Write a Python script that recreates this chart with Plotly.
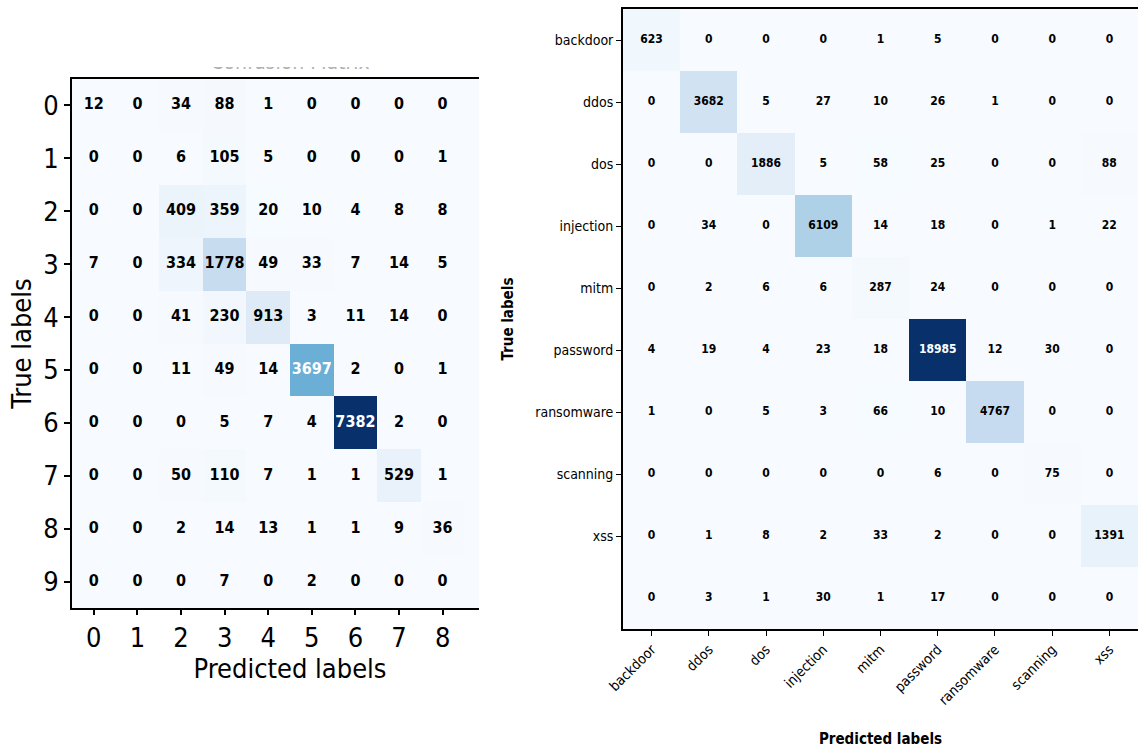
import plotly.graph_objects as go

# ---- data -------------------------------------------------------------
digit_labels = ["0", "1", "2", "3", "4", "5", "6", "7", "8", "9"]

digit_matrix = [
    [12, 0, 34, 88, 1, 0, 0, 0, 0, 0],
    [0, 0, 6, 105, 5, 0, 0, 0, 1, 0],
    [0, 0, 409, 359, 20, 10, 4, 8, 8, 0],
    [7, 0, 334, 1778, 49, 33, 7, 14, 5, 0],
    [0, 0, 41, 230, 913, 3, 11, 14, 0, 0],
    [0, 0, 11, 49, 14, 3697, 2, 0, 1, 0],
    [0, 0, 0, 5, 7, 4, 7382, 2, 0, 0],
    [0, 0, 50, 110, 7, 1, 1, 529, 1, 0],
    [0, 0, 2, 14, 13, 1, 1, 9, 36, 0],
    [0, 0, 0, 7, 0, 2, 0, 0, 0, 0],
]

attack_labels = ["backdoor", "ddos", "dos", "injection", "mitm",
                 "password", "ransomware", "scanning", "xss"]

attack_matrix = [
    [623, 0, 0, 0, 1, 5, 0, 0, 0],
    [0, 3682, 5, 27, 10, 26, 1, 0, 0],
    [0, 0, 1886, 5, 58, 25, 0, 0, 88],
    [0, 34, 0, 6109, 14, 18, 0, 1, 22],
    [0, 2, 6, 6, 287, 24, 0, 0, 0],
    [4, 19, 4, 23, 18, 18985, 12, 30, 0],
    [1, 0, 5, 3, 66, 10, 4767, 0, 0],
    [0, 0, 0, 0, 0, 6, 0, 75, 0],
    [0, 1, 8, 2, 33, 2, 0, 0, 1391],
    [0, 3, 1, 30, 1, 17, 0, 0, 0],
]

# matplotlib "Blues"
BLUES = [
    [0.0, "#f7fbff"], [0.125, "#deebf7"], [0.25, "#c6dbef"],
    [0.375, "#9ecae1"], [0.5, "#6baed6"], [0.625, "#4292c6"],
    [0.75, "#2171b5"], [0.875, "#08519c"], [1.0, "#08306b"],
]

W, H = 1138, 751
FONT = "DejaVu Sans Condensed, DejaVu Sans, sans-serif"


def px_x(p):
    return p / W


def px_y(p):
    return 1 - p / H


def cell_text(matrix):
    vmax = max(max(r) for r in matrix)
    xs, ys, txt, col = [], [], [], []
    for i, row in enumerate(matrix):
        for j, v in enumerate(row):
            xs.append(j)
            ys.append(i)
            txt.append(str(v))
            col.append("white" if v / vmax > 0.45 else "black")
    return xs, ys, txt, col


fig = go.Figure()

# ---- left panel: digit classes ---------------------------------------
fig.add_trace(go.Heatmap(
    z=digit_matrix, x=list(range(len(digit_labels))), y=list(range(len(digit_labels))),
    colorscale=BLUES, zmin=0, showscale=False, hoverinfo="skip",
    xaxis="x", yaxis="y",
))
xs, ys, txt, col = cell_text(digit_matrix)
fig.add_trace(go.Scatter(
    x=xs, y=ys, text=txt, mode="text", cliponaxis=True, hoverinfo="skip",
    textfont=dict(family=FONT, size=16, color=col, weight="bold"),
    xaxis="x", yaxis="y", showlegend=False,
))

# ---- right panel: attack types ---------------------------------------
fig.add_trace(go.Heatmap(
    z=attack_matrix, x=list(range(len(attack_labels))), y=list(range(len(attack_matrix))),
    colorscale=BLUES, zmin=0, showscale=False, hoverinfo="skip",
    xaxis="x2", yaxis="y2",
))
xs, ys, txt, col = cell_text(attack_matrix)
fig.add_trace(go.Scatter(
    x=xs, y=ys, text=txt, mode="text", cliponaxis=True, hoverinfo="skip",
    textfont=dict(family=FONT, size=12, color=col, weight="bold"),
    xaxis="x2", yaxis="y2", showlegend=False,
))

# ---- clipped heading strip above the left panel -----------------------
fig.add_trace(go.Scatter(
    x=[0.5], y=[1.6], text=["Confusion Matrix"], mode="text", cliponaxis=True,
    hoverinfo="skip", textfont=dict(family=FONT, size=21, color="#b0b0b0"),
    xaxis="x3", yaxis="y3", showlegend=False,
))

axis_common = dict(showgrid=False, zeroline=False, showline=True, mirror=True,
                   linecolor="black", ticks="outside", tickcolor="black",
                   automargin=False)

fig.update_layout(
    width=W, height=H,
    margin=dict(l=0, r=0, t=0, b=0),
    paper_bgcolor="white", plot_bgcolor="white",
    showlegend=False,
    xaxis=dict(
        **axis_common, domain=[px_x(72), px_x(508)], anchor="y",
        range=[-0.5, 9.5], tickmode="array",
        tickvals=list(range(len(digit_labels))), ticktext=digit_labels,
        linewidth=2, ticklen=5, tickwidth=1.5,
        tickfont=dict(family=FONT, size=27, color="black"),
        title=dict(text="Predicted labels", standoff=6,
                   font=dict(family=FONT, size=27, color="black")),
    ),
    yaxis=dict(
        **axis_common, domain=[px_y(608), px_y(79)], anchor="x",
        range=[9.5, -0.5], tickmode="array",
        tickvals=list(range(len(digit_labels))), ticktext=digit_labels,
        linewidth=2, ticklen=6, tickwidth=1.5,
        tickfont=dict(family=FONT, size=27, color="black"),
        title=dict(text="True labels", standoff=4,
                   font=dict(family=FONT, size=27, color="black")),
    ),
    xaxis2=dict(
        **axis_common, domain=[px_x(623), 1.0], anchor="y2",
        range=[-0.5, 8.5], tickmode="array",
        tickvals=list(range(len(attack_labels))), ticktext=attack_labels,
        tickangle=-45, linewidth=1.8, ticklen=5, tickwidth=1.2,
        tickfont=dict(family=FONT, size=14, color="black"),
        title=dict(text="Predicted labels", standoff=27,
                   font=dict(family=FONT, size=15, color="black", weight="bold")),
    ),
    yaxis2=dict(
        **axis_common, domain=[px_y(629), px_y(9)], anchor="x2",
        range=[9.5, -0.5], tickmode="array",
        tickvals=list(range(len(attack_labels))), ticktext=attack_labels,
        linewidth=1.8, ticklen=5, tickwidth=1.2,
        tickfont=dict(family=FONT, size=14, color="black"),
        title=dict(text="True labels", standoff=18,
                   font=dict(family=FONT, size=15, color="black", weight="bold")),
    ),
    xaxis3=dict(domain=[px_x(72), px_x(508)], range=[0, 1], visible=False,
                anchor="y3", fixedrange=True),
    yaxis3=dict(domain=[px_y(72), px_y(67)], range=[0, 1], visible=False,
                anchor="x3", fixedrange=True),
    shapes=[
        # left panel is cropped on its right side
        dict(type="rect", xref="paper", yref="paper", layer="above",
             x0=px_x(479), x1=px_x(522), y0=px_y(720), y1=px_y(40),
             fillcolor="white", line=dict(width=0)),
    ],
)

fig.write_html("out.html")
